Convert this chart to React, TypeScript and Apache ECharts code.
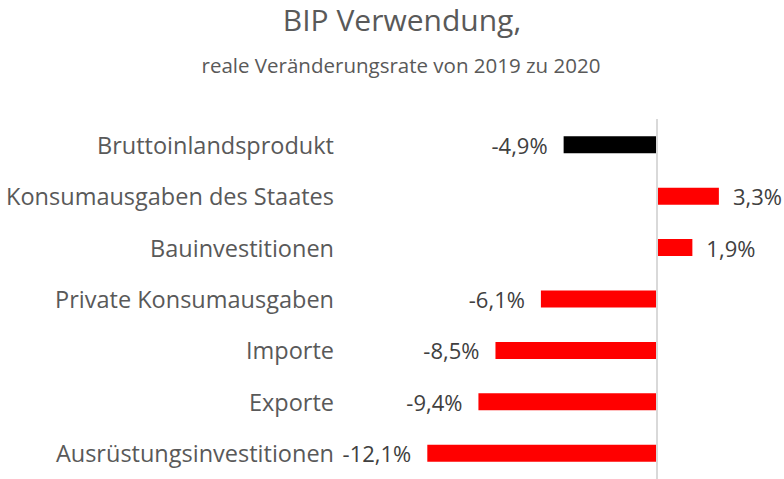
import React, { useEffect, useRef } from "react";
import * as echarts from "echarts";

const categories = [
  "Bruttoinlandsprodukt",
  "Konsumausgaben des Staates",
  "Bauinvestitionen",
  "Private Konsumausgaben",
  "Importe",
  "Exporte",
  "Ausrüstungsinvestitionen",
];
const values = [-4.9, 3.3, 1.9, -6.1, -8.5, -9.4, -12.1];
const barColors = ["#000000", "#FF0000", "#FF0000", "#FF0000", "#FF0000", "#FF0000", "#FF0000"];

const titleText = "BIP Verwendung,";
const subtitleText = "reale Veränderungsrate von 2019 zu 2020";

const FONT = "'Open Sans', 'Noto Sans', sans-serif";

export default function App() {
  const ref = useRef<HTMLDivElement>(null);
  useEffect(() => {
    document.body.style.margin = "0";
    if (!ref.current) return;
    const chart = echarts.init(ref.current, undefined, { renderer: "svg" });
    chart.setOption({
      animation: false,
      backgroundColor: "#ffffff",
      graphic: [
        {
          type: "text",
          x: 402,
          y: 4,
          style: {
            text: titleText,
            textAlign: "center",
            textVerticalAlign: "top",
            fontFamily: FONT,
            fontSize: 30,
            fill: "#595959",
          },
        },
        {
          type: "text",
          x: 401,
          y: 54,
          style: {
            text: subtitleText,
            textAlign: "center",
            textVerticalAlign: "top",
            fontFamily: FONT,
            fontSize: 20.5,
            fill: "#595959",
          },
        },
      ],
      grid: { left: 344, top: 119, width: 426, height: 366, containLabel: false },
      xAxis: {
        type: "value",
        min: -16.5,
        max: 6,
        show: false,
      },
      yAxis: {
        type: "category",
        inverse: true,
        data: categories,
        axisLine: { show: false, onZero: false },
        axisTick: { show: false },
        axisLabel: {
          margin: 10,
          fontFamily: FONT,
          fontSize: 23.5,
          color: "#595959",
        },
      },
      series: [
        {
          type: "bar",
          barWidth: 17,
          data: values.map((v, i) => ({
            value: v,
            itemStyle: { color: barColors[i] },
            label: {
              show: true,
              position: v < 0 ? "left" : "right",
              distance: v < 0 ? 16 : 14,
              formatter: () => v.toFixed(1).replace(".", ",") + "%",
              fontFamily: FONT,
              fontSize: 22,
              color: "#404040",
            },
          })),
          markLine: {
            silent: true,
            symbol: "none",
            label: { show: false },
            lineStyle: { color: "#d9d9d9", width: 2, type: "solid" },
            data: [{ xAxis: 0 }],
          },
        },
      ],
    });
    return () => chart.dispose();
  }, []);
  return <div ref={ref} style={{ width: 784, height: 479 }} />;
}
